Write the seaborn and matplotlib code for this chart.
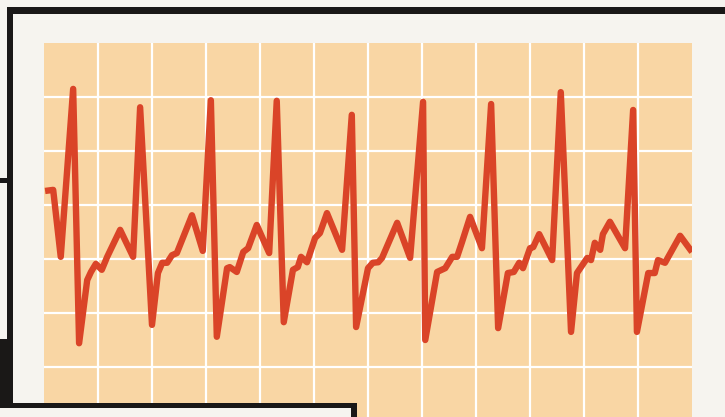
import matplotlib
matplotlib.use("Agg")
import matplotlib.pyplot as plt
from matplotlib.patches import Rectangle
import seaborn as sns
import pandas as pd

# ECG trace (grid units: 1 unit = one big square)
time_units = [0.02, 0.17, 0.31, 0.54, 0.65, 0.80, 0.87, 0.96, 1.07, 1.17,
              1.41, 1.65, 1.78, 2.00, 2.11, 2.19, 2.28, 2.37, 2.46, 2.74,
              2.94, 3.09, 3.20, 3.39, 3.44, 3.57, 3.69, 3.78, 3.94, 4.17,
              4.31, 4.44, 4.61, 4.70, 4.76, 4.87, 5.02, 5.11, 5.24, 5.52,
              5.70, 5.78, 6.00, 6.09, 6.19, 6.26, 6.54, 6.78, 7.02, 7.06,
              7.28, 7.43, 7.56, 7.65, 7.74, 7.89, 8.11, 8.28, 8.41, 8.59,
              8.70, 8.80, 8.87, 9.00, 9.06, 9.17, 9.41, 9.57, 9.76, 9.87,
              10.06, 10.13, 10.20, 10.30, 10.35, 10.48, 10.76, 10.91, 10.98, 11.19,
              11.31, 11.37, 11.50, 11.78, 12.00]
amplitude = [4.26, 4.28, 3.04, 6.15, 1.44, 2.61, 2.76, 2.91, 2.80, 3.04,
             3.54, 3.04, 5.81, 1.78, 2.74, 2.93, 2.93, 3.07, 3.11, 3.81,
             3.15, 5.94, 1.56, 2.83, 2.85, 2.76, 3.13, 3.20, 3.63, 3.11,
             5.93, 1.83, 2.80, 2.85, 3.04, 2.94, 3.39, 3.48, 3.85, 3.17,
             5.67, 1.74, 2.83, 2.93, 2.94, 3.02, 3.67, 3.02, 5.91, 1.50,
             2.76, 2.83, 3.04, 3.04, 3.31, 3.78, 3.20, 5.87, 1.72, 2.74,
             2.76, 2.93, 2.83, 3.20, 3.22, 3.46, 2.98, 6.09, 1.65, 2.74,
             3.02, 2.98, 3.30, 3.17, 3.46, 3.69, 3.20, 5.76, 1.65, 2.74,
             2.74, 2.98, 2.93, 3.43, 3.13]
grid_x = list(range(1, 12))
grid_y = list(range(1, 7))

# colours
paper = "#f6f4ef"
peach = "#f9d6a4"
trace = "#da4428"

sns.set_style("white")

W, H = 725, 417
fig = plt.figure(figsize=(W / 100, H / 100), dpi=100, facecolor=paper)
ax = fig.add_axes([44 / W, 0, 648 / W, 374 / H])
ax.set_facecolor(peach)

for gx in grid_x:
    ax.axvline(gx, color="white", lw=1.6, zorder=1)
for gy in grid_y:
    ax.axhline(gy, color="white", lw=1.6, zorder=1)

df = pd.DataFrame({"t": time_units, "v": amplitude})
sns.lineplot(data=df, x="t", y="v", ax=ax, color=trace, lw=4.6,
             estimator=None, sort=False, zorder=3)
for ln in ax.get_lines():
    ln.set_solid_joinstyle("round")
    ln.set_solid_capstyle("butt")

ax.set_xlim(0, 12)
ax.set_ylim((421 - 417) / 54, 7)
ax.set_xticks([])
ax.set_yticks([])
ax.set_xlabel("")
ax.set_ylabel("")
for s in ax.spines.values():
    s.set_visible(False)


# frame pieces drawn on top, in pixel coords (y from top)
def box(x0, y0, x1, y1, c):
    fig.add_artist(Rectangle((x0 / W, 1 - y1 / H), (x1 - x0) / W, (y1 - y0) / H,
                             transform=fig.transFigure, color=c, lw=0, zorder=10))


box(13, 403, 357, 417, paper)        # lower panel inside
box(7, 7, 725, 14, "#1a1817")        # top bar
box(7, 7, 13, 408, "#1a1817")        # left bar
box(0, 178, 9, 183, "#1a1817")       # small left tick
box(0, 339, 13, 408, "#1a1817")      # bottom-left block
box(0, 403, 357, 408, "#1a1817")     # bottom bar
box(351, 403, 357, 417, "#1a1817")   # lower panel right edge

fig.savefig("out.png", dpi=100, facecolor=paper)
